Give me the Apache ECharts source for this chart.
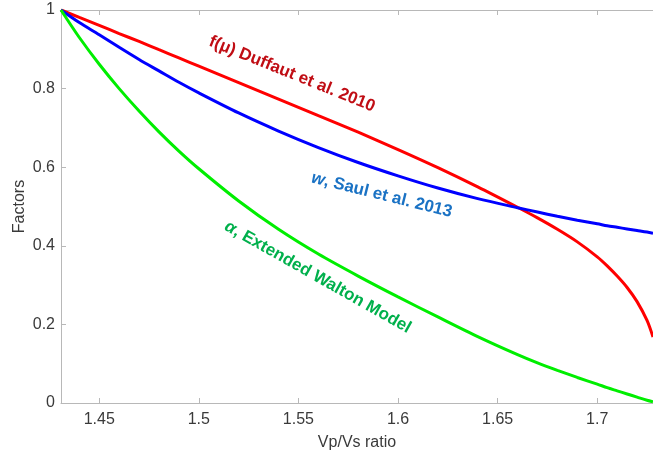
<!DOCTYPE html>
<html>
<head>
<meta charset="utf-8">
<script src="https://cdn.jsdelivr.net/npm/echarts@6/dist/echarts.min.js"></script>
<style>
  html, body { margin: 0; padding: 0; background: #fff; }
  #chart { width: 653px; height: 452px; }
</style>
</head>
<body>
<div id="chart"></div>
<script>
// Vp/Vs ratio sample points
var vpvs = [1.4308, 1.44, 1.45, 1.46, 1.47, 1.48, 1.49, 1.50, 1.52, 1.54, 1.56, 1.58, 1.60,
            1.62, 1.64, 1.66, 1.67, 1.68, 1.69, 1.70, 1.705, 1.71, 1.715, 1.72, 1.725, 1.728];
// f(mu), Duffaut et al. 2010
var duffaut = [1.000, 0.981, 0.961, 0.940, 0.920, 0.899, 0.878, 0.857, 0.815, 0.773, 0.731, 0.689, 0.645,
               0.599, 0.550, 0.498, 0.471, 0.442, 0.410, 0.372, 0.349, 0.323, 0.294, 0.258, 0.210, 0.168];
// w, Saul et al. 2013
var saul = [1.000, 0.968, 0.937, 0.905, 0.874, 0.845, 0.816, 0.789, 0.738, 0.692, 0.650, 0.612, 0.578,
            0.547, 0.520, 0.497, 0.486, 0.475, 0.465, 0.456, 0.451, 0.447, 0.443, 0.439, 0.435, 0.432];
// alpha, extended Walton model
var walton = [1.000, 0.930, 0.862, 0.800, 0.743, 0.690, 0.641, 0.596, 0.514, 0.442, 0.379, 0.323, 0.270,
              0.219, 0.169, 0.123, 0.102, 0.083, 0.065, 0.048, 0.039, 0.031, 0.023, 0.015, 0.007, 0.003];

var xTicks = [1.45, 1.5, 1.55, 1.6, 1.65, 1.7];

// text labels, anchored in data coords
var labels = [
  { text: 'f(μ) Duffaut et al. 2010', at: [1.5468, 0.837], angle: 22, color: '#c00d14' },
  { text: '{i|w}, Saul et al. 2013', at: [1.5918, 0.529], angle: 14, color: '#1a72c4' },
  { text: '{i|α}, Extended Walton Model', at: [1.5597, 0.320], angle: 29.5, color: '#00b04c' }
];

function pairs(ys) {
  return vpvs.map(function (x, i) { return [x, ys[i]]; });
}

var axisGray = '#b8b8b8';
var textGray = '#3a3a3a';
var font = 'Liberation Sans, Arial, Helvetica, sans-serif';

var myChart = echarts.init(document.getElementById('chart'));
myChart.setOption({
  animation: false,
  grid: { left: 61, right: 0, top: 10, bottom: 49, outerBoundsMode: 'none' },
  xAxis: [{
    type: 'value',
    min: 1.4308,
    max: 1.728,
    name: 'Vp/Vs ratio',
    nameLocation: 'middle',
    nameGap: 32,
    nameMoveOverlap: false,
    nameTextStyle: { color: textGray, fontSize: 16, fontFamily: font },
    axisLine: { lineStyle: { color: axisGray } },
    axisTick: { inside: true, length: 5, customValues: xTicks, lineStyle: { color: axisGray } },
    axisLabel: { customValues: xTicks, margin: 9, color: textGray, fontSize: 16, fontFamily: font },
    splitLine: { show: false }
  }, {
    type: 'value',
    position: 'top',
    min: 1.4308,
    max: 1.728,
    axisLine: { show: true, lineStyle: { color: axisGray } },
    axisTick: { inside: true, length: 5, customValues: xTicks, lineStyle: { color: axisGray } },
    axisLabel: { show: false },
    splitLine: { show: false }
  }],
  yAxis: {
    type: 'value',
    min: 0,
    max: 1,
    interval: 0.2,
    name: 'Factors',
    nameLocation: 'middle',
    nameGap: 33,
    nameMoveOverlap: false,
    nameTextStyle: { color: textGray, fontSize: 16, fontFamily: font },
    axisLine: { show: true, lineStyle: { color: axisGray } },
    axisTick: { show: true, inside: true, length: 5, lineStyle: { color: axisGray } },
    axisLabel: { margin: 6, color: textGray, fontSize: 16, fontFamily: font },
    splitLine: { show: false }
  },
  series: [
    { name: 'Duffaut', type: 'line', data: pairs(duffaut), smooth: 0.3, symbol: 'none',
      lineStyle: { color: '#ff0000', width: 3 } },
    { name: 'Saul', type: 'line', data: pairs(saul), smooth: 0.3, symbol: 'none',
      lineStyle: { color: '#0000ff', width: 3 } },
    { name: 'Walton', type: 'line', data: pairs(walton), smooth: 0.3, symbol: 'none',
      lineStyle: { color: '#00ee00', width: 3 } }
  ]
});

myChart.setOption({
  graphic: labels.map(function (lb) {
    var p = myChart.convertToPixel({ gridIndex: 0 }, lb.at);
    return {
      type: 'text',
      x: p[0],
      y: p[1],
      rotation: -lb.angle * Math.PI / 180,
      silent: true,
      style: {
        text: lb.text,
        fill: lb.color,
        font: 'bold 17px ' + font,
        align: 'center',
        verticalAlign: 'middle',
        rich: { i: { fontStyle: 'italic', fontWeight: 'bold', fontSize: 17, fontFamily: font, fill: lb.color } }
      }
    };
  })
});
</script>
</body>
</html>
